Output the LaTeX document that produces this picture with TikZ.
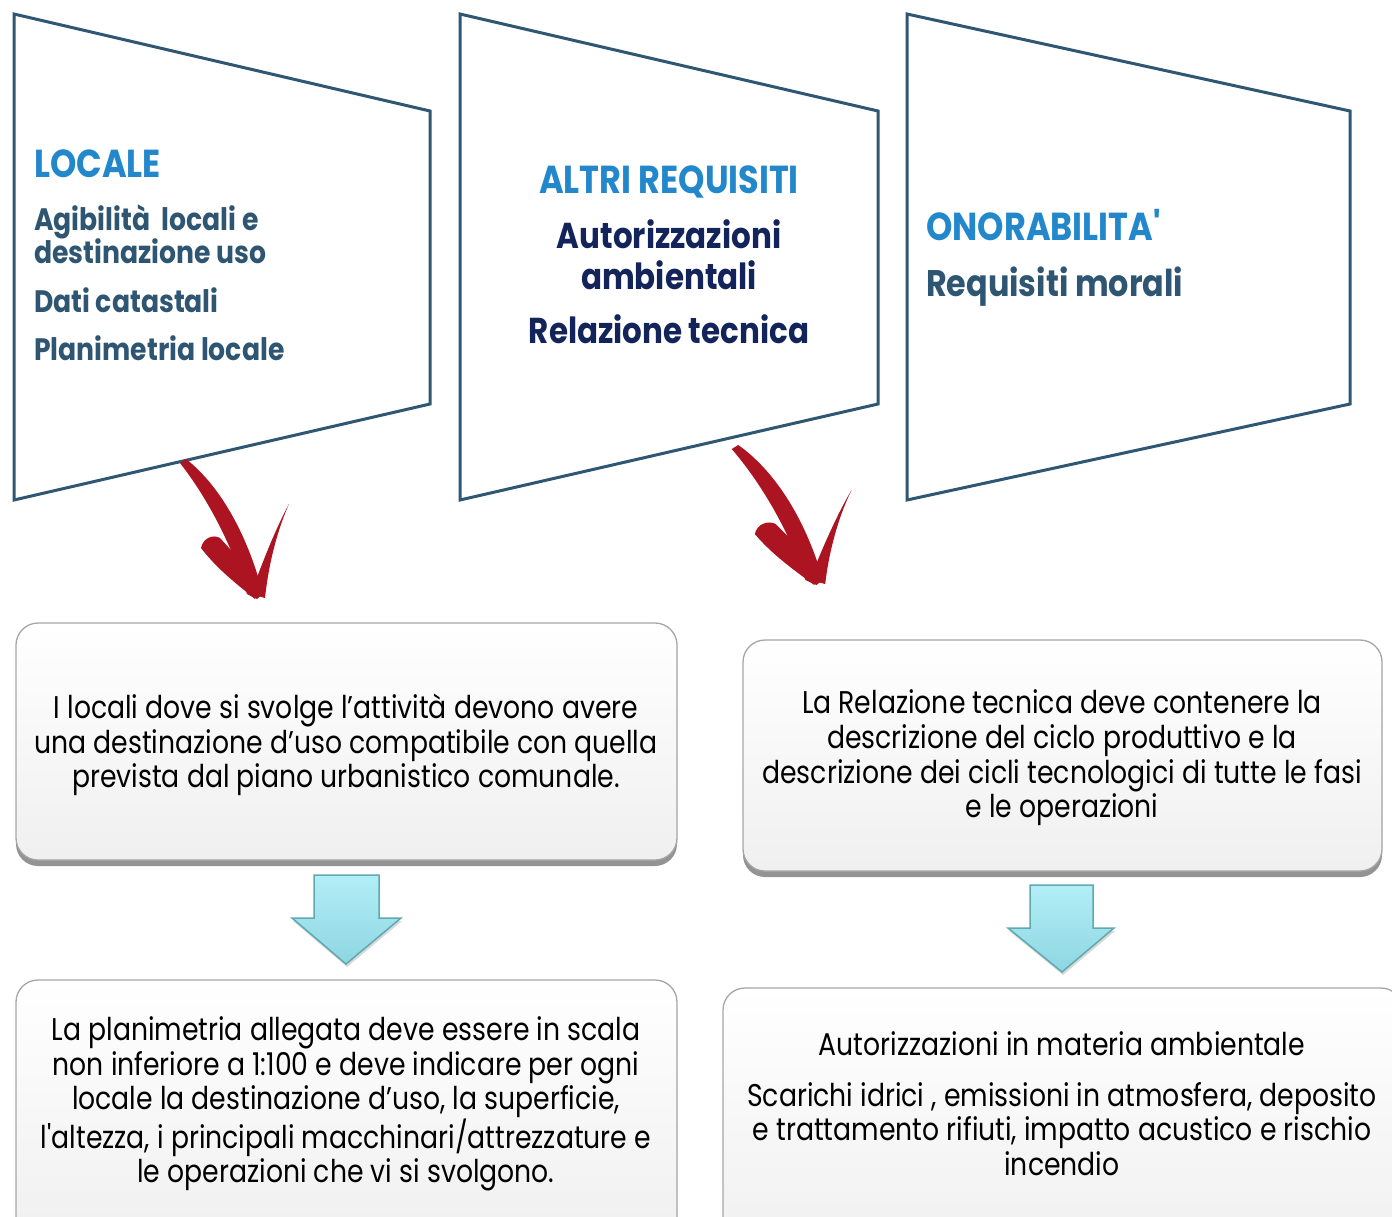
\documentclass[tikz,border=0pt]{standalone}
\usepackage{fontspec}
\setmainfont{Poppins}
\newfontfamily\hfont{Poppins}[FakeStretch=0.86]
\newfontfamily\bfont{Poppins}[FakeStretch=0.85]
\usetikzlibrary{shadows}
\definecolor{frame}{HTML}{2F5673}
\definecolor{headblue}{HTML}{2388CB}
\definecolor{slate}{HTML}{2E5672}
\definecolor{navy}{HTML}{13245A}
\definecolor{brush}{HTML}{AD1421}
\definecolor{cyantop}{HTML}{B2EEF6}
\definecolor{cyanbot}{HTML}{8ED6E2}
\definecolor{cyanedge}{HTML}{5FA9B1}
\newcommand\brusharrow[2]{%
  \begin{scope}[shift={#1},xscale=#2]
    \fill[brush] (3,-1) .. controls (40,28) and (66,80) .. (80,134)
      -- (74,139) -- (64,134) .. controls (50,88) and (26,40) .. (-3,3) -- cycle;
    \fill[brush] (18,88) .. controls (20,78) and (30,74) .. (37,78)
      -- (79,124) -- (72,139) .. controls (55,125) and (35,110) .. (18,88) -- cycle;
    \fill[brush] (106,44) .. controls (96,66) and (86,100) .. (82,138)
      -- (68,134) .. controls (80,100) and (94,66) .. (106,44) -- cycle;
  \end{scope}}
\begin{document}
\begin{tikzpicture}[x=1pt,y=-1pt,
  panel/.style={draw=frame,line width=3pt,line join=miter},
  headtxt/.style={font=\hfont\bfseries\fontsize{39}{44}\selectfont,text=headblue,inner sep=0pt},
  subtxt/.style={font=\hfont\bfseries\fontsize{31}{36}\selectfont,text=slate,inner sep=0pt},
  navytxt/.style={font=\hfont\bfseries\fontsize{36}{42}\selectfont,text=navy,inner sep=0pt},
  bodytxt/.style={font=\bfont\fontsize{31.4}{34.6}\selectfont,align=center,inner sep=0pt,text=black},
  card/.style={draw=black!35,line width=1.3pt,rounded corners=22pt,top color=white,bottom color=black!6,
    drop shadow={shadow xshift=0pt,shadow yshift=-6pt,opacity=0.6,fill=black!70}},
  blockarrow/.style={draw=cyanedge,line width=1.5pt,line join=miter,top color=cyantop,bottom color=cyanbot,
    drop shadow={shadow xshift=1pt,shadow yshift=-3pt,opacity=0.3}}
]
\useasboundingbox (0,0) rectangle (1392,1216);
\fill[white] (0,0) rectangle (1392,1216);

% top panels
\draw[panel] (14,14) -- (430,111) -- (430,404) -- (14,500) -- cycle;
\draw[panel] (460,14) -- (878,111) -- (878,404) -- (460,500) -- cycle;
\draw[panel] (907,14) -- (1350,111) -- (1350,404) -- (907,500) -- cycle;

\node[headtxt,anchor=base west] (locT) at (34,177) {LOCALE};
\node[subtxt,anchor=base west] (loc1) at (34,230) {Agibilità\ \ locali e};
\node[subtxt,anchor=base west] (loc2) at (34,263) {destinazione uso};
\node[subtxt,anchor=base west] (loc3) at (34,312) {Dati catastali};
\node[subtxt,anchor=base west] (loc4) at (34,360) {Planimetria locale};

\node[headtxt,anchor=base] (altT) at (669,193) {ALTRI REQUISITI};
\node[navytxt,anchor=base] (alt1) at (669,248) {Autorizzazioni};
\node[navytxt,anchor=base] (alt2) at (669,289) {ambientali};
\node[navytxt,anchor=base] (alt3) at (669,343) {Relazione tecnica};

\node[headtxt,anchor=base west] (onoT) at (926,240) {ONORABILITA'};
\node[subtxt,anchor=base west,font=\hfont\bfseries\fontsize{37}{42}\selectfont] (ono1) at (926,296) {Requisiti morali};

% red brush arrows
\brusharrow{(183,460)}{1}
\brusharrow{(735,446)}{1.1}

% cards
\node[card,minimum width=661pt,minimum height=237pt] (cardA) at (346.5,741.5) {};
\node[card,minimum width=639pt,minimum height=231pt] (cardB) at (1062.5,755.5) {};
\node[card,minimum width=661pt,minimum height=260pt] (cardC) at (346.5,1110) {};
\node[card,minimum width=680pt,minimum height=262pt] (cardD) at (1063,1119) {};

\node[bodytxt] (txtA) at (346,745) {I locali dove si svolge l’attività devono avere\\una destinazione d’uso compatibile con quella\\prevista dal piano urbanistico comunale.};
\node[bodytxt] (txtB) at (1062,758) {La Relazione tecnica deve contenere la\\descrizione del ciclo produttivo e la\\descrizione dei cicli tecnologici di tutte le fasi\\e le operazioni};
\node[bodytxt] (txtC) at (346,1104) {La planimetria allegata deve essere in scala\\non inferiore a 1:100 e deve indicare per ogni\\locale la destinazione d’uso, la superficie,\\l'altezza, i principali macchinari/attrezzature e\\le operazioni che vi si svolgono.};
\node[bodytxt] (txtD1) at (1062,1044) {Autorizzazioni in materia ambientale};
\node[bodytxt] (txtD2) at (1062,1129) {Scarichi idrici , emissioni in atmosfera, deposito\\e trattamento rifiuti, impatto acustico e rischio\\incendio};

% cyan block arrows
\draw[blockarrow] (314,875) -- (379,875) -- (379,918) -- (401,918) -- (346,964) -- (292,918) -- (314,918) -- cycle;
\draw[blockarrow] (1030,885) -- (1093,885) -- (1093,928) -- (1114,928) -- (1062,972) -- (1008,928) -- (1030,928) -- cycle;
\end{tikzpicture}
\end{document}
